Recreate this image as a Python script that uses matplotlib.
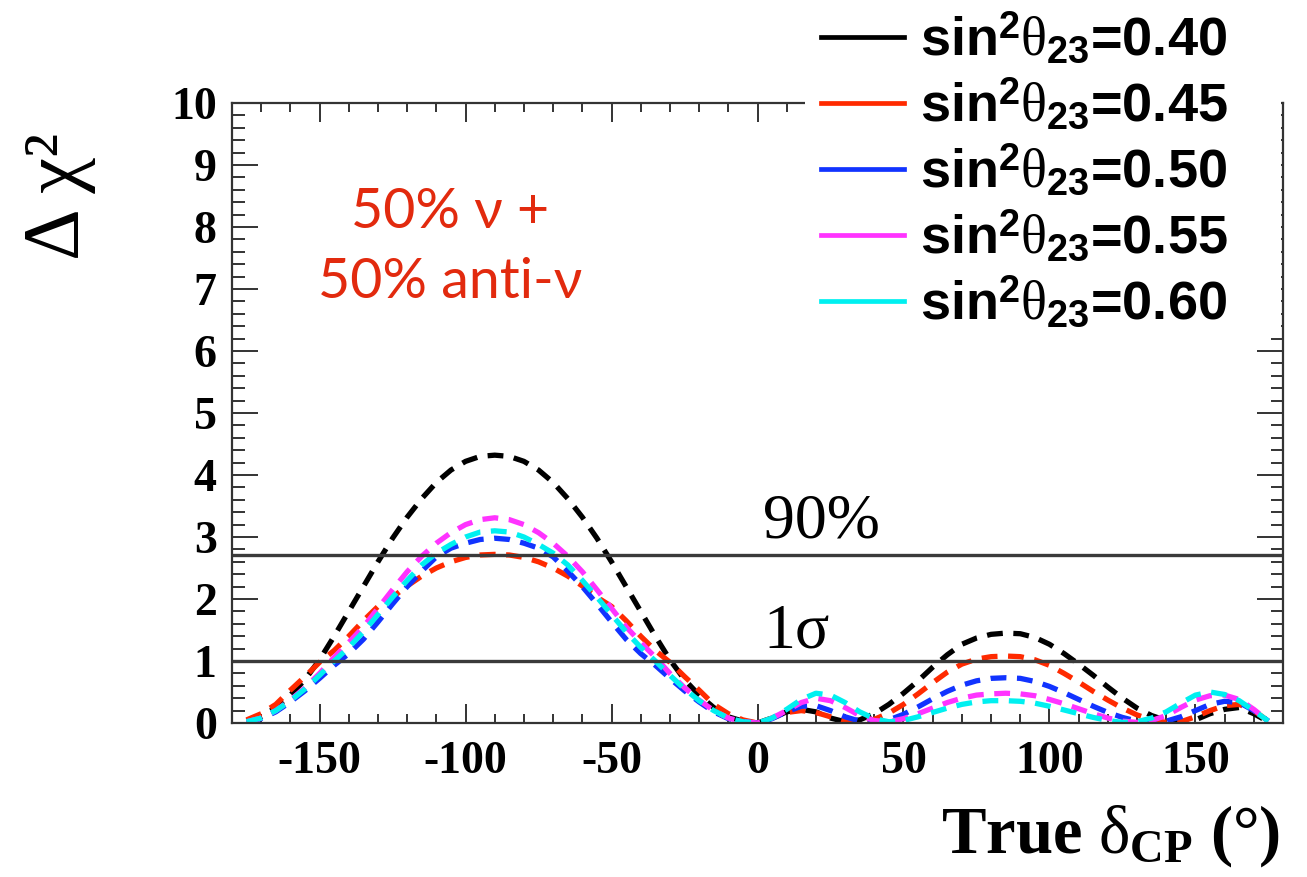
import matplotlib
matplotlib.use("Agg")
import matplotlib.pyplot as plt
from matplotlib.lines import Line2D
from matplotlib.patches import Rectangle
from matplotlib.ticker import MultipleLocator
import numpy as np

# mathtext: digits bold sans (legend), greek upright serif, \mathbf bold serif
plt.rcParams["mathtext.fontset"] = "custom"
plt.rcParams["mathtext.rm"] = "Liberation Sans:bold"
plt.rcParams["mathtext.it"] = "Liberation Serif"
plt.rcParams["mathtext.bf"] = "Liberation Serif:bold"

# true delta_CP grid (deg)
delta_cp = np.arange(-175, 180, 5)

# delta chi^2 per sin^2(theta23)
chi2_040 = [0.03, 0.10, 0.25, 0.45, 0.70, 1.02, 1.40, 1.80, 2.20, 2.60, 2.98, 3.32, 3.62, 3.88, 4.08, 4.22, 4.30,
            4.32, 4.30, 4.22, 4.08, 3.88, 3.62, 3.32, 2.98, 2.60, 2.20, 1.80, 1.40, 1.02, 0.70, 0.45, 0.25, 0.10, 0.03, 0.00,
            0.08, 0.18, 0.22, 0.18, 0.08, 0.02, 0.05, 0.15, 0.30, 0.48, 0.68, 0.90, 1.10, 1.27, 1.37, 1.43, 1.45, 1.44,
            1.38, 1.27, 1.12, 0.95, 0.77, 0.58, 0.40, 0.24, 0.12, 0.04, 0.01, 0.05, 0.15, 0.22, 0.25, 0.15, 0.02]
chi2_045 = [0.05, 0.15, 0.30, 0.53, 0.75, 0.98, 1.17, 1.40, 1.65, 1.88, 2.03, 2.21, 2.37, 2.50, 2.60, 2.67, 2.71,
            2.72, 2.71, 2.67, 2.60, 2.50, 2.37, 2.21, 2.03, 1.88, 1.65, 1.40, 1.17, 0.98, 0.75, 0.53, 0.30, 0.15, 0.05, 0.00,
            0.08, 0.17, 0.20, 0.17, 0.10, 0.03, 0.01, 0.06, 0.16, 0.30, 0.47, 0.65, 0.82, 0.95, 1.03, 1.07, 1.08, 1.07,
            1.02, 0.93, 0.80, 0.66, 0.51, 0.37, 0.24, 0.13, 0.05, 0.01, 0.02, 0.10, 0.20, 0.28, 0.30, 0.20, 0.03]
chi2_050 = [0.02, 0.07, 0.18, 0.34, 0.52, 0.72, 0.93, 1.12, 1.35, 1.63, 1.92, 2.20, 2.45, 2.68, 2.82, 2.90, 2.96,
            2.98, 2.96, 2.90, 2.82, 2.68, 2.45, 2.20, 1.92, 1.63, 1.35, 1.12, 0.93, 0.72, 0.52, 0.34, 0.18, 0.07, 0.02, 0.00,
            0.07, 0.18, 0.27, 0.28, 0.20, 0.10, 0.03, 0.01, 0.05, 0.14, 0.26, 0.39, 0.51, 0.61, 0.68, 0.72, 0.73, 0.72,
            0.67, 0.59, 0.49, 0.38, 0.27, 0.17, 0.09, 0.03, 0.01, 0.03, 0.10, 0.20, 0.30, 0.35, 0.33, 0.20, 0.03]
chi2_055 = [0.02, 0.08, 0.20, 0.37, 0.57, 0.80, 1.06, 1.30, 1.55, 1.85, 2.15, 2.44, 2.69, 2.90, 3.07, 3.20, 3.28,
            3.31, 3.28, 3.20, 3.07, 2.90, 2.69, 2.44, 2.15, 1.85, 1.55, 1.30, 1.06, 0.80, 0.57, 0.37, 0.20, 0.08, 0.02, 0.00,
            0.08, 0.20, 0.33, 0.40, 0.36, 0.25, 0.12, 0.04, 0.02, 0.07, 0.15, 0.24, 0.33, 0.40, 0.45, 0.47, 0.48, 0.47,
            0.44, 0.38, 0.31, 0.23, 0.15, 0.08, 0.03, 0.01, 0.04, 0.12, 0.25, 0.37, 0.44, 0.45, 0.38, 0.22, 0.03]
chi2_060 = [0.02, 0.08, 0.20, 0.36, 0.55, 0.77, 1.00, 1.22, 1.47, 1.75, 2.03, 2.30, 2.55, 2.74, 2.88, 3.00, 3.08,
            3.10, 3.08, 3.00, 2.88, 2.74, 2.55, 2.30, 2.03, 1.75, 1.47, 1.22, 1.00, 0.77, 0.55, 0.36, 0.20, 0.08, 0.02, 0.00,
            0.08, 0.22, 0.38, 0.48, 0.45, 0.33, 0.18, 0.07, 0.02, 0.04, 0.10, 0.17, 0.24, 0.30, 0.34, 0.36, 0.36, 0.35,
            0.32, 0.27, 0.21, 0.15, 0.09, 0.04, 0.01, 0.02, 0.08, 0.18, 0.32, 0.45, 0.50, 0.46, 0.36, 0.20, 0.03]

curves = [chi2_040, chi2_045, chi2_050, chi2_055, chi2_060]
labels = ["0.40", "0.45", "0.50", "0.55", "0.60"]
colors = ["#000000", "#ff2a00", "#1133ff", "#ff33ff", "#00f0f0"]

cl_90 = 2.71
one_sigma = 1.0
x_ticks = [-150, -100, -50, 0, 50, 100, 150]
y_ticks = [0, 1, 2, 3, 4, 5, 6, 7, 8, 9, 10]

W, H = 1307, 877
fig = plt.figure(figsize=(W / 100, H / 100), dpi=100)
ax = fig.add_axes([232 / W, 1 - 723 / H, (1283 - 232) / W, (723 - 103) / H])

for vals, col in zip(curves, colors):
    ax.plot(delta_cp, vals, color=col, lw=3.8, linestyle=(0, (3.0, 2.0)), dash_capstyle="butt")

ax.axhline(cl_90, color="#3a3a3a", lw=2.4)
ax.axhline(one_sigma, color="#3a3a3a", lw=2.4)

serif = "Liberation Serif"
ax.text(2, 3.0, "90%", family=serif, fontsize=46, va="baseline", ha="left")
ax.text(2, 1.21, "1σ", family=serif, fontsize=46, va="baseline", ha="left")

ax.set_xlim(-180, 180)
ax.set_ylim(0, 10)
ax.set_xticks(x_ticks)
ax.set_xticklabels([str(t) for t in x_ticks])
ax.set_yticks(y_ticks)
ax.set_yticklabels([str(t) for t in y_ticks])
ax.xaxis.set_minor_locator(MultipleLocator(10))
ax.yaxis.set_minor_locator(MultipleLocator(0.2))
ax.tick_params(which="both", direction="in", top=True, right=True, width=1.4, color="#333333")
ax.tick_params(axis="x", which="major", length=13.5, pad=13)
ax.tick_params(axis="x", which="minor", length=6.5)
ax.tick_params(axis="y", which="major", length=19, pad=11)
ax.tick_params(axis="y", which="minor", length=9)
for lab in ax.get_xticklabels() + ax.get_yticklabels():
    lab.set_fontfamily(serif)
    lab.set_fontweight("bold")
    lab.set_fontsize(33)
for sp in ax.spines.values():
    sp.set_linewidth(1.6)
    sp.set_color("#333333")

# axis titles
fig.text(1280 / W, 1 - 853 / H, r"True $\delta_{\mathbf{CP}}$ (°)", family=serif, fontweight="bold",
         fontsize=48, ha="right", va="baseline")
fig.text(60 / W, 1 - 196 / H, "Δ χ²", family=serif, fontsize=58, rotation=90, ha="center", va="center")

# red annotation
red = "#e22a0e"
fig.text(450 / W, 1 - 212 / H, "50% ν +", family=["Lato", "Open Sans", "DejaVu Sans"], color=red,
         fontsize=40, ha="center", va="center")
fig.text(450 / W, 1 - 282 / H, "50% anti-ν", family=["Lato", "Open Sans", "DejaVu Sans"], color=red,
         fontsize=40, ha="center", va="center")

# white legend pad over the frame corner (right spine stays visible)
fig.patches.append(Rectangle((805 / W, 1 - 330 / H), (1281 - 805) / W, 330 / H,
                             transform=fig.transFigure, facecolor="white", edgecolor="none", zorder=2))

# legend with solid samples
handles = [Line2D([], [], color=c, lw=3.4) for c in colors]
leg_labels = [r"sin$^{2}\theta_{23}$=" + l for l in labels]
leg = fig.legend(handles, leg_labels, loc="upper left", bbox_to_anchor=(810 / W, 1.0),
                 frameon=False, prop={"family": "Liberation Sans", "weight": "bold", "size": 39},
                 handlelength=1.53, handletextpad=0.3, labelspacing=0.19, borderpad=0.2, borderaxespad=0)
leg.set_zorder(5)

fig.savefig("out.png", dpi=100)
